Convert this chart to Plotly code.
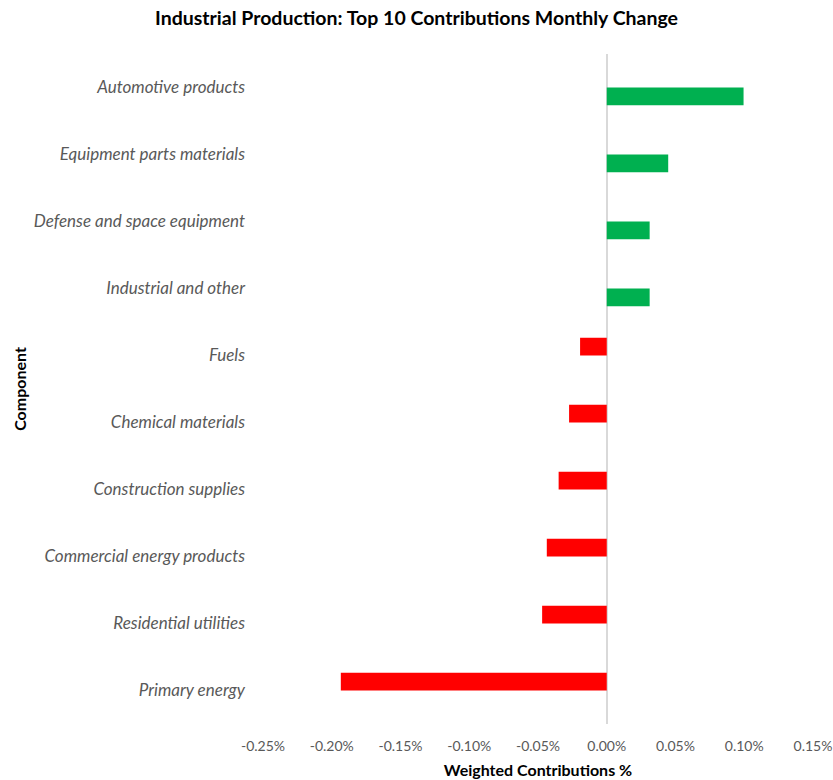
import plotly.graph_objects as go

categories = [
    "Automotive products",
    "Equipment parts materials",
    "Defense and space equipment",
    "Industrial and other",
    "Fuels",
    "Chemical materials",
    "Construction supplies",
    "Commercial energy products",
    "Residential utilities",
    "Primary energy",
]
values = [0.0995, 0.0447, 0.0312, 0.0312, -0.0194, -0.0274, -0.035, -0.0436, -0.047, -0.1934]

x_tickvals = [-0.0025, -0.0020, -0.0015, -0.0010, -0.0005, 0.0, 0.0005, 0.0010, 0.0015]
x_ticktext = ["-0.25%", "-0.20%", "-0.15%", "-0.10%", "-0.05%", "0.00%", "0.05%", "0.10%", "0.15%"]

neg_vals = [v / 100 if v < 0 else None for v in values]
pos_vals = [v / 100 if v > 0 else None for v in values]

fig = go.Figure()
fig.add_trace(go.Bar(y=categories, x=neg_vals, orientation="h",
                     marker=dict(color="#FF0000", line=dict(width=0)), name="Negative"))
fig.add_trace(go.Bar(y=categories, x=pos_vals, orientation="h",
                     marker=dict(color="#00B050", line=dict(width=0)), name="Positive"))

fig.update_layout(
    width=833, height=780,
    margin=dict(l=263, r=20, t=54, b=56, autoexpand=False),
    paper_bgcolor="white", plot_bgcolor="white",
    barmode="group", bargap=0.47, bargroupgap=0,
    showlegend=False,
    title=dict(text="Industrial Production: Top 10 Contributions Monthly Change",
               x=0.5, xanchor="center", xref="container",
               y=1 - 18 / 780, yanchor="middle", yref="container",
               font=dict(family="Lato", size=19.5, color="#000000", weight="bold")),
    font=dict(family="Lato"),
)
fig.update_xaxes(
    range=[-0.0025, 0.0015],
    automargin=False,
    tickvals=x_tickvals, ticktext=x_ticktext,
    tickfont=dict(family="Lato", size=14, color="#595959"),
    showgrid=False, zeroline=True, zerolinecolor="#D9D9D9", zerolinewidth=2,
    showline=False, ticks="",
    ticklabelstandoff=12,
    title=dict(text="Weighted Contributions %", standoff=11,
               font=dict(family="Lato", size=16, color="#000000", weight="bold")),
)
fig.update_yaxes(
    autorange="reversed",
    automargin=False,
    tickfont=dict(family="Lato", size=17, color="#595959", style="italic"),
    showgrid=False, zeroline=False, showline=False, ticks="",
    ticklabelstandoff=17,
    title=dict(text="Component", standoff=3,
               font=dict(family="Lato", size=16, color="#000000", weight="bold")),
)

fig.write_html("out.html")
